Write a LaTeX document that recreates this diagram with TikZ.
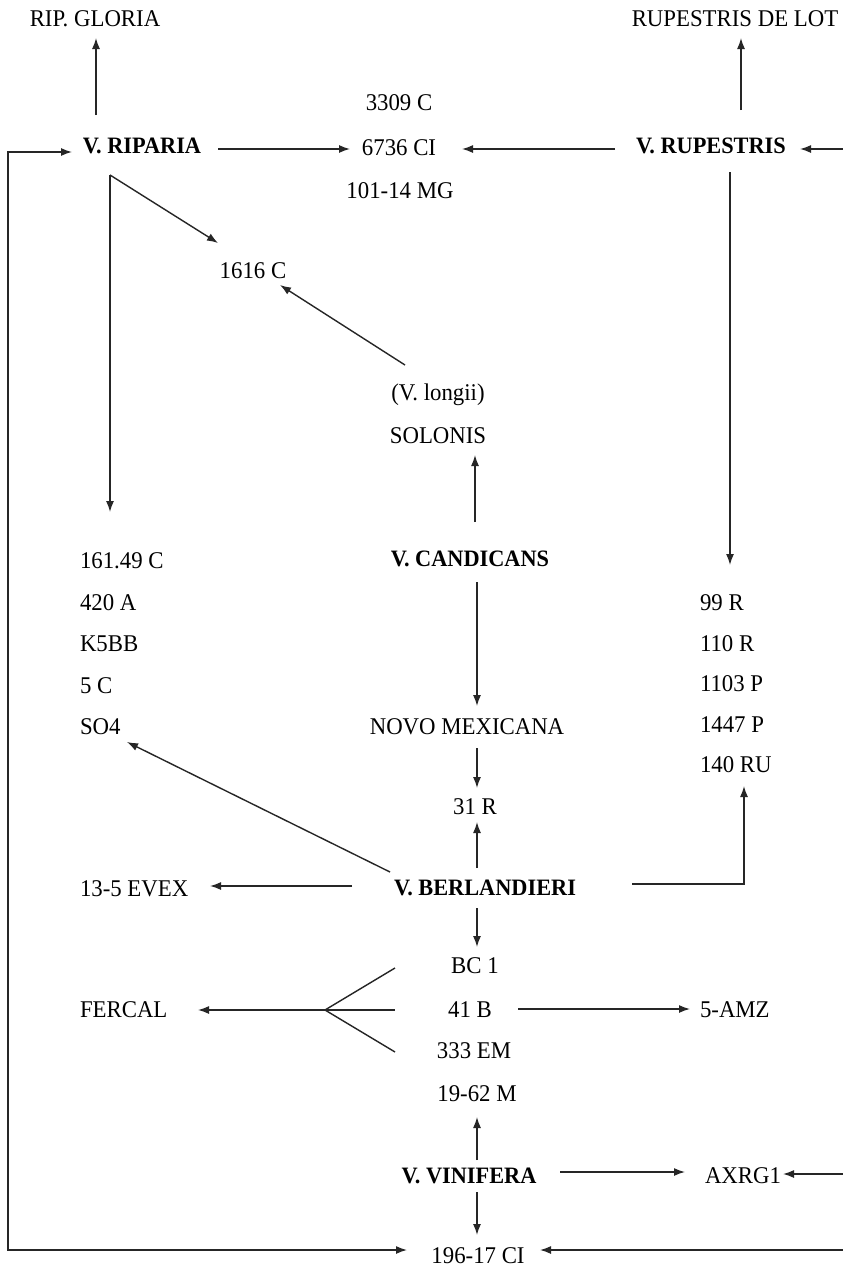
\documentclass[tikz,border=0pt]{standalone}
\usepackage{fontspec}
\setmainfont[FakeStretch=0.95]{Liberation Serif}
\usetikzlibrary{arrows.meta}
\begin{document}
\begin{tikzpicture}[x=1pt,y=-1pt,
  lbl/.style={inner sep=0pt,outer sep=0pt,text height=16pt,text depth=0pt,font=\fontsize{24}{28}\selectfont},
  blbl/.style={lbl,font=\fontsize{23.5}{28}\selectfont\bfseries},
  lline/.style={line width=1.4pt,draw=black!85},
  arr/.style={lline,-{Latex[length=11pt,width=8pt]}},
  arrb/.style={lline,{Latex[length=11pt,width=8pt]}-{Latex[length=11pt,width=8pt]}}]
\path[use as bounding box,fill=white] (0,0) rectangle (843,1277);
% nodes
\node[lbl] (ripg) at (95,18) {RIP. GLORIA};
\node[lbl] (rupl) at (735,18) {RUPESTRIS DE LOT};
\node[lbl] (c3309) at (399,102) {3309 C};
\node[lbl] (c6736) at (399,147) {6736 CI};
\node[lbl] (c101) at (400,190) {101-14 MG};
\node[blbl] (riparia) at (142,145) {V. RIPARIA};
\node[blbl] (rupestris) at (711,145) {V. RUPESTRIS};
\node[lbl] (c1616) at (253,270) {1616 C};
\node[lbl] (longii) at (438,392) {(V. longii)};
\node[lbl] (solonis) at (438,435) {SOLONIS};
\node[blbl] (candicans) at (470,558) {V. CANDICANS};
\node[lbl,anchor=west] (c161) at (80,560) {161.49 C};
\node[lbl,anchor=west] (c420) at (80,602) {420 A};
\node[lbl,anchor=west] (k5bb) at (80,643) {K5BB};
\node[lbl,anchor=west] (c5c) at (80,685) {5 C};
\node[lbl,anchor=west] (so4) at (80,726) {SO4};
\node[lbl,anchor=west] (r99) at (700,602) {99 R};
\node[lbl,anchor=west] (r110) at (700,643) {110 R};
\node[lbl,anchor=west] (p1103) at (700,683) {1103 P};
\node[lbl,anchor=west] (p1447) at (700,724) {1447 P};
\node[lbl,anchor=west] (ru140) at (700,764) {140 RU};
\node[lbl] (novo) at (467,726) {NOVO MEXICANA};
\node[lbl] (c31r) at (475,806) {31 R};
\node[blbl] (berl) at (485,887) {V. BERLANDIERI};
\node[lbl,anchor=west] (evex) at (80,888) {13-5 EVEX};
\node[lbl] (bc1) at (475,965) {BC 1};
\node[lbl] (c41b) at (470,1009) {41 B};
\node[lbl,anchor=west] (fercal) at (80,1009) {FERCAL};
\node[lbl,anchor=west] (amz) at (700,1009) {5-AMZ};
\node[lbl] (c333) at (474,1050) {333 EM};
\node[lbl] (c1962) at (477,1093) {19-62 M};
\node[blbl] (vinifera) at (469,1175) {V. VINIFERA};
\node[lbl,anchor=west] (axrg) at (705,1175) {AXRG1};
\node[lbl] (c19617) at (478,1255) {196-17 CI};
% free ends
\coordinate (re1) at (843,149);
\coordinate (re2) at (843,1174);
\coordinate (re3) at (843,1250);
\coordinate (L) at (8,700);
\coordinate (fork) at (325,1010);
% connectors
\draw[arr] ([shift={(-46,-30)}]riparia.center) -- ([shift={(1,20)}]ripg.center);
\draw[arr] ([shift={(30,-35)}]rupestris.center) -- ([shift={(6,20)}]rupl.center);
\draw[arr] ([shift={(76,4)}]riparia.center) -- ([shift={(-49,2)}]c6736.center);
\draw[arr] ([shift={(-96,4)}]rupestris.center) -- ([shift={(63,2)}]c6736.center);
\draw[arr] (re1) -- ([shift={(89,4)}]rupestris.center);
\draw[arr] ([shift={(-32,30)}]riparia.center) -- ([shift={(-35,-27)}]c1616.center);
\draw[arr] ([shift={(-32,30)}]riparia.center) -- ([shift={(30,-48)}]c161.west);
\draw[arr] ([shift={(-33,-27)}]longii.center) -- ([shift={(27,15)}]c1616.center);
\draw[arr] ([shift={(5,-36)}]candicans.center) -- ([shift={(37,20)}]solonis.center);
\draw[arr] ([shift={(7,24)}]candicans.center) -- ([shift={(10,-20)}]novo.center);
\draw[arr] ([shift={(19,27)}]rupestris.center) -- ([shift={(30,-37)}]r99.west);
\draw[arr] ([shift={(10,22)}]novo.center) -- ([shift={(2,-18)}]c31r.center);
\draw[arr] ([shift={(-8,-19)}]berl.center) -- ([shift={(2,16)}]c31r.center);
\draw[arr] ([shift={(-95,-15)}]berl.center) -- ([shift={(47,16)}]so4.west);
\draw[arr] ([shift={(-133,-1)}]berl.center) -- ([shift={(130,-2)}]evex.west);
\draw[arr] ([shift={(147,-3)}]berl.center) -| ([shift={(44,22)}]ru140.west);
\draw[arr] ([shift={(-8,21)}]berl.center) -- ([shift={(2,-18)}]bc1.center);
\draw[lline] (fork) -- ([shift={(-80,3)}]bc1.center);
\draw[lline] (fork) -- ([shift={(-75,1)}]c41b.center);
\draw[lline] (fork) -- ([shift={(-79,2)}]c333.center);
\draw[arr] (fork) -- ([shift={(118,1)}]fercal.west);
\draw[arr] ([shift={(48,0)}]c41b.center) -- ([shift={(-10,0)}]amz.west);
\draw[arr] ([shift={(8,-15)}]vinifera.center) -- ([shift={(0,24)}]c1962.center);
\draw[arr] ([shift={(91,-3)}]vinifera.center) -- ([shift={(-20,-3)}]axrg.west);
\draw[arr] (re2) -- ([shift={(2,-1)}]axrg.east);
\draw[arr] ([shift={(8,17)}]vinifera.center) -- ([shift={(-1,-20)}]c19617.center);
\draw[arr] (re3) -- ([shift={(62,-5)}]c19617.center);
\draw[arrb] ([shift={(-70,7)}]riparia.center) -| (L) |- ([shift={(-71,-5)}]c19617.center);
\end{tikzpicture}
\end{document}
